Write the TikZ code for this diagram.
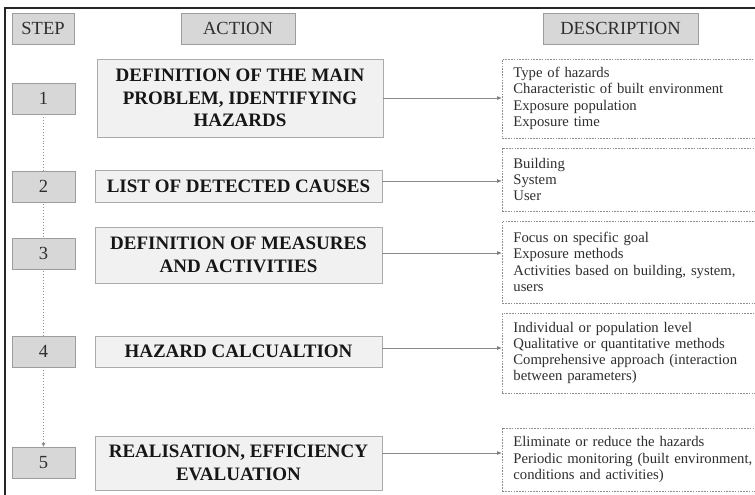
\documentclass[tikz,border=0pt]{standalone}
\usepackage{fontspec}
\setmainfont{Liberation Serif}
\usetikzlibrary{arrows.meta,backgrounds}
\definecolor{hdrfill}{HTML}{D7D7D7}
\definecolor{hdrline}{HTML}{9C9C9C}
\definecolor{actfill}{HTML}{F1F1F1}
\definecolor{actline}{HTML}{ABABAB}
\definecolor{descline}{HTML}{8E8E8E}
\definecolor{conncol}{HTML}{8A8A8A}
\definecolor{txtcol}{HTML}{2E2E2E}
\definecolor{boldcol}{HTML}{161616}
\tikzset{
  framelines/.style={draw=black!85, line width=1.5pt},
  hdrbox/.style={draw=hdrline, fill=hdrfill, line width=0.9pt, inner sep=0pt,
    minimum height=31pt, text=txtcol, font=\fontsize{18.5}{22}\selectfont},
  stepbox/.style={hdrbox, minimum width=63pt},
  actbox/.style={draw=actline, fill=actfill, line width=0.9pt, inner sep=0pt,
    align=center, text=boldcol, font=\fontsize{19}{22.5}\selectfont\bfseries},
  descbox/.style={draw=descline, fill=white, line width=0.8pt,
    dash pattern=on 1.6pt off 1.2pt, anchor=west, align=left,
    text width=246pt, inner xsep=11pt, inner ysep=0pt, text=txtcol,
    font=\fontsize{14.7}{16.3}\selectfont},
  conn/.style={draw=conncol, line width=0.7pt, -{Latex[length=5pt,width=4pt,fill=black!80]}},
  stepconn/.style={draw=black!45, line width=0.9pt, dotted,
    -{Latex[length=4pt,width=4pt,fill=black!60]}}
}
\begin{document}
\begin{tikzpicture}[x=1pt,y=-1pt]
\useasboundingbox (0,0) rectangle (755,495);

% headers
\node[hdrbox, minimum width=62pt] (hstep) at (43,28.5) {STEP};
\node[hdrbox, minimum width=114pt] (hact) at (238,28.5) {ACTION};
\node[hdrbox, minimum width=155pt] (hdesc) at (620.5,28.5) {DESCRIPTION};

% steps
\node[stepbox] (s1) at (43.5,98.5) {1};
\node[stepbox] (s2) at (43.5,186.5) {2};
\node[stepbox] (s3) at (43.5,253.5) {3};
\node[stepbox] (s4) at (43.5,351.5) {4};
\node[stepbox] (s5) at (43.5,463) {5};

% actions
\node[actbox, minimum width=286pt, minimum height=78pt] (a1) at (240,98)
  {DEFINITION OF THE MAIN\\PROBLEM, IDENTIFYING\\HAZARDS};
\node[actbox, minimum width=287pt, minimum height=32pt] (a2) at (238.5,186)
  {LIST OF DETECTED CAUSES};
\node[actbox, minimum width=287pt, minimum height=56pt] (a3) at (238.5,255)
  {DEFINITION OF MEASURES\\AND ACTIVITIES};
\node[actbox, minimum width=287pt, minimum height=31pt] (a4) at (238.5,351.5)
  {HAZARD CALCUALTION};
\node[actbox, minimum width=287pt, minimum height=54pt] (a5) at (238.5,463)
  {REALISATION, EFFICIENCY\\EVALUATION};

% descriptions
\node[descbox, minimum height=79pt] (d1) at (502,98.5)
  {Type of hazards\\Characteristic of built environment\\Exposure population\\Exposure time};
\node[descbox, minimum height=63pt] (d2) at (502,179.5)
  {Building\\System\\User};
\node[descbox, minimum height=82pt] (d3) at (502,262)
  {Focus on specific goal\\Exposure methods\\Activities based on building, system,\\users};
\node[descbox, minimum height=80pt] (d4) at (502,353)
  {Individual or population level\\Qualitative or quantitative methods\\Comprehensive approach (interaction\\between parameters)};
\node[descbox, minimum height=63pt] (d5) at (502,459.5)
  {Eliminate or reduce the hazards\\Periodic monitoring (built environment,\\conditions and activities)};

% connectors
\coordinate (c1) at (a1.east);
\coordinate (c2) at ([yshift=5pt]a2.east);
\coordinate (c3) at ([yshift=2pt]a3.east);
\coordinate (c4) at ([yshift=3.5pt]a4.east);
\coordinate (c5) at ([yshift=10pt]a5.east);
\draw[conn] (c1) -- (c1 -| d1.west);
\draw[conn] (c2) -- (c2 -| d2.west);
\draw[conn] (c3) -- (c3 -| d3.west);
\draw[conn] (c4) -- (c4 -| d4.west);
\draw[conn] (c5) -- (c5 -| d5.west);

\begin{scope}[on background layer]
\fill[white] (0,0) rectangle (755,495);
\draw[framelines] (5,496) -- (5,8) -- (756,8);
\draw[stepconn] (s1.south) -- (s5.north);
\end{scope}
\end{tikzpicture}
\end{document}
